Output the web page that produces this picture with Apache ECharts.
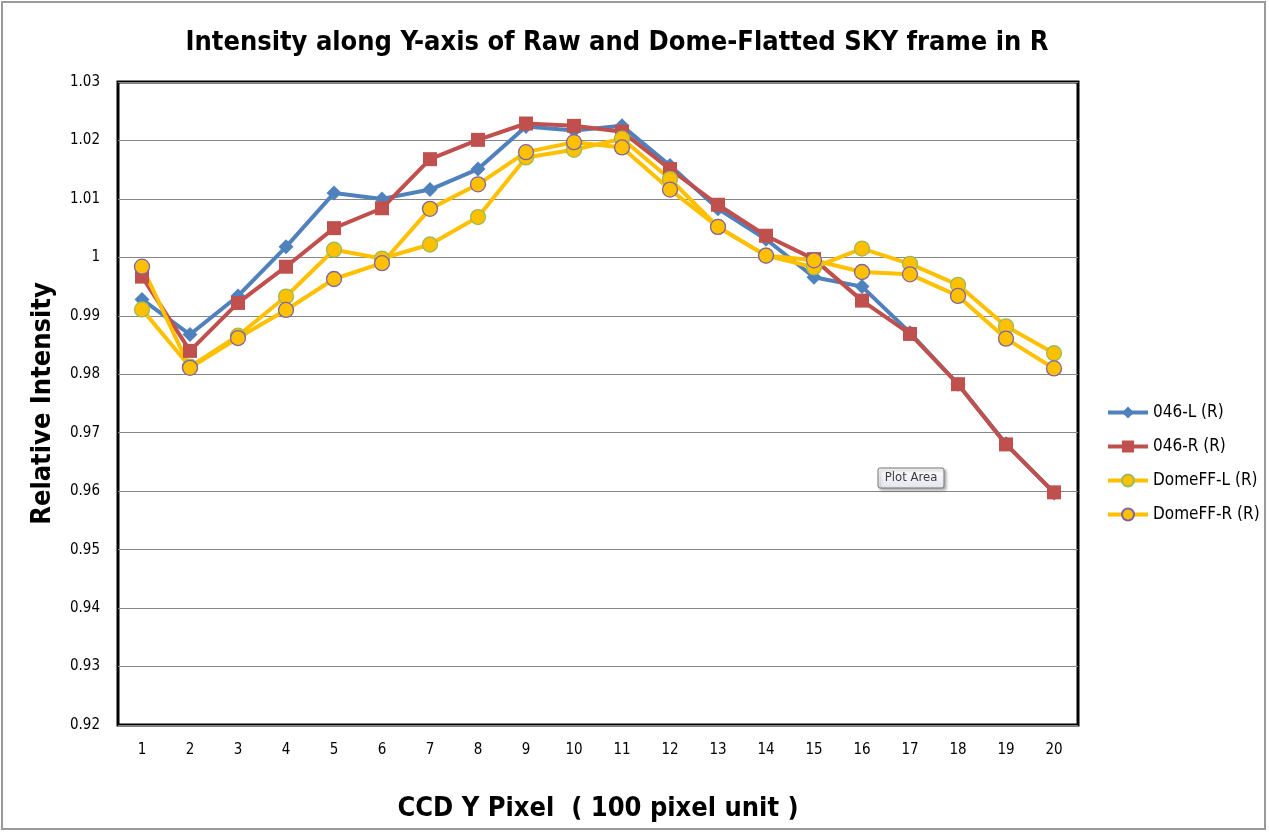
<!DOCTYPE html>
<html>
<head>
<meta charset="utf-8">
<script src="https://cdn.jsdelivr.net/npm/echarts@6/dist/echarts.min.js"></script>
<style>
html,body{margin:0;padding:0;background:#fff;}
#chart{width:1269px;height:833px;}
</style>
</head>
<body>
<div id="chart"></div>
<script>
var categories = ['1','2','3','4','5','6','7','8','9','10','11','12','13','14','15','16','17','18','19','20'];
var s046L = [0.9928, 0.9868, 0.9934, 1.0018, 1.0110, 1.0100, 1.0116, 1.0151, 1.0224, 1.0217, 1.0225, 1.0157, 1.0083, 1.0031, 0.9966, 0.9950, 0.9871, 0.9783, 0.9681, 0.9597];
var s046R = [0.9967, 0.9840, 0.9922, 0.9984, 1.0050, 1.0084, 1.0168, 1.0201, 1.0229, 1.0225, 1.0215, 1.0151, 1.0090, 1.0037, 0.9997, 0.9926, 0.9869, 0.9783, 0.9680, 0.9598];
var domeL = [0.9911, 0.9813, 0.9866, 0.9933, 1.0013, 0.9998, 1.0022, 1.0069, 1.0171, 1.0184, 1.0203, 1.0134, 1.0052, 1.0003, 0.9983, 1.0015, 0.9989, 0.9953, 0.9882, 0.9836];
var domeR = [0.9984, 0.9811, 0.9862, 0.9910, 0.9963, 0.9990, 1.0083, 1.0125, 1.0180, 1.0197, 1.0188, 1.0116, 1.0052, 1.0003, 0.9995, 0.9975, 0.9971, 0.9934, 0.9861, 0.9810];
var seriesNames = ['046-L (R)', '046-R (R)', 'DomeFF-L (R)', 'DomeFF-R (R)'];

var FONT = '"Liberation Sans Narrow", "DejaVu Sans Condensed", "Liberation Sans", sans-serif';
var chart = echarts.init(document.getElementById('chart'));

function mk(name, data, color, symbol, size, border) {
  return {
    name: name, type: 'line', data: data,
    symbol: symbol, symbolSize: size, showSymbol: true,
    lineStyle: {color: color, width: 4},
    itemStyle: {color: color, borderColor: border || color, borderWidth: border ? 1.3 : 0},
    z: 3
  };
}

chart.setOption({
  animation: false,
  backgroundColor: '#fff',
  title: {
    text: 'Intensity along Y-axis of Raw and Dome-Flatted SKY frame in R',
    left: 612, top: 24, textAlign: 'center',
    textStyle: {fontFamily: FONT, fontSize: 27, fontWeight: 'bold', color: '#000'}
  },
  grid: {left: 118, right: 191, top: 82, bottom: 108, show: true, borderColor: '#000', borderWidth: 3, backgroundColor: '#fff'},
  legend: {
    orient: 'vertical', left: 1101, top: 399, itemGap: 17,
    itemWidth: 40, itemHeight: 15,
    lineStyle: {width: 4},
    data: seriesNames,
    textStyle: {fontFamily: FONT, fontSize: 17, color: '#000'}
  },
  xAxis: {
    type: 'category', data: categories, boundaryGap: true,
    axisLine: {show: false}, axisTick: {show: false},
    axisLabel: {fontFamily: FONT, fontSize: 15, color: '#000', margin: 18},
    name: 'CCD Y Pixel  ( 100 pixel unit )', nameLocation: 'middle', nameGap: 70,
    nameTextStyle: {fontFamily: FONT, fontSize: 27, fontWeight: 'bold', color: '#000'}
  },
  yAxis: {
    type: 'value', min: 0.92, max: 1.03, interval: 0.01,
    axisLine: {show: false}, axisTick: {show: false},
    splitLine: {show: true, lineStyle: {color: '#868686', width: 1}},
    axisLabel: {fontFamily: FONT, fontSize: 15, color: '#000', margin: 18,
      formatter: function (v) { return String(+v.toFixed(2)); }},
    name: 'Relative Intensity', nameLocation: 'middle', nameGap: 62,
    nameTextStyle: {fontFamily: FONT, fontSize: 27, fontWeight: 'bold', color: '#000'}
  },
  series: [
    mk(seriesNames[0], s046L, '#4F81BD', 'diamond', 15),
    mk(seriesNames[1], s046R, '#C0504D', 'rect', 14),
    mk(seriesNames[2], domeL, '#FFC000', 'circle', 15, '#9BBB59'),
    mk(seriesNames[3], domeR, '#FFC000', 'circle', 15, '#8064A2')
  ],
  graphic: [
    {type: 'rect', shape: {x: 2, y: 2, width: 1263, height: 827}, style: {fill: 'none', stroke: '#9a9a9a', lineWidth: 2}, z: 100, silent: true},
    {type: 'rect', shape: {x: 878, y: 468, width: 66, height: 20, r: 2},
      style: {fill: new echarts.graphic.LinearGradient(0, 0, 0, 1, [{offset: 0, color: '#ffffff'}, {offset: 1, color: '#e4e5ee'}]),
        stroke: '#767676', lineWidth: 1, shadowBlur: 3, shadowOffsetX: 2, shadowOffsetY: 2, shadowColor: 'rgba(0,0,0,0.3)'}, z: 100},
    {type: 'text', x: 911, y: 478, style: {text: 'Plot Area', font: '13px "Liberation Sans Narrow", "DejaVu Sans Condensed", sans-serif', fill: '#3c3c3c', textAlign: 'center', textVerticalAlign: 'middle'}, z: 101}
  ]
});
</script>
</body>
</html>
